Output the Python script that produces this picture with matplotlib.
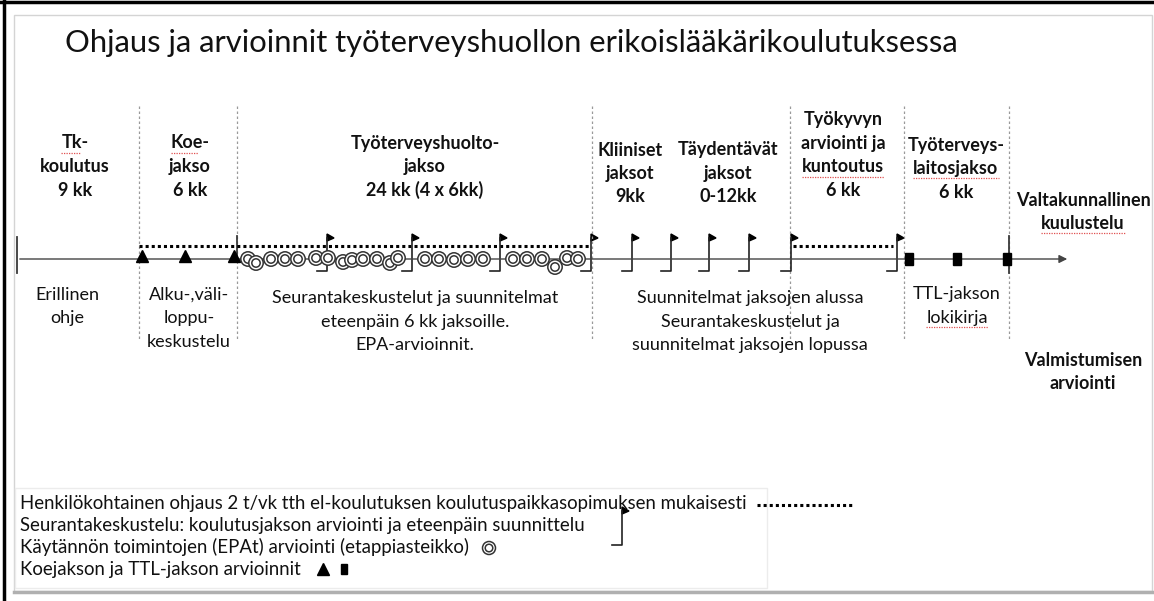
import matplotlib.pyplot as plt
from matplotlib.patches import Rectangle, Circle, Polygon

plt.rcParams["font.family"] = ["Lato", "DejaVu Sans"]

# --- content ---
title = "Ohjaus ja arvioinnit työterveyshuollon erikoislääkärikoulutuksessa"

phases = [
    "Tk-\nkoulutus\n9 kk",
    "Koe-\njakso\n6 kk",
    "Työterveyshuolto-\njakso\n24 kk (4 x 6kk)",
    "Kliiniset\njaksot\n9kk",
    "Täydentävät\njaksot\n0-12kk",
    "Työkyvyn\narviointi ja\nkuntoutus\n6 kk",
    "Työterveys-\nlaitosjakso\n6 kk",
    "Valtakunnallinen\nkuulustelu",
]

notes = [
    "Erillinen\nohje",
    "Alku-,väli-\nloppu-\nkeskustelu",
    "Seurantakeskustelut ja suunnitelmat\neteenpäin 6 kk jaksoille.\nEPA-arvioinnit.",
    "Suunnitelmat jaksojen alussa\nSeurantakeskustelut ja\nsuunnitelmat jaksojen lopussa",
    "TTL-jakson\nlokikirja",
]
final_note = "Valmistumisen\narviointi"

legend_lines = [
    "Henkilökohtainen ohjaus 2 t/vk tth el-koulutuksen koulutuspaikkasopimuksen mukaisesti",
    "Seurantakeskustelu: koulutusjakson arviointi ja eteenpäin suunnittelu",
    "Käytännön toimintojen (EPAt) arviointi (etappiasteikko)",
    "Koejakson ja TTL-jakson arvioinnit",
]

# words flagged by the spell checker (red wavy underline in the slide)
spell_marked = {"Tk-", "Koe-", "kuntoutus", "laitosjakso", "kuulustelu", "lokikirja"}

# --- layout (canvas units = pixels) ---
W, H = 1154, 601
line_y = 259
phase_x = [75, 190, 425, 630, 728, 843, 956, 1083]
phase_y = [143, 143, 143, 150, 150, 120, 145, 200]
note_x = [67, 189, 415, 750, 957]
note_y = [295, 295, 298, 298, 294]
separators = [139, 237, 592, 790, 904, 1009]
triangles = [142, 185, 234]
squares = [909, 957, 1007]
flags = [327, 412, 500, 591, 632, 671, 709, 749, 791, 897]
epa_x = [248, 256, 271, 285, 298, 316, 328, 343, 352, 363, 377, 390, 398,
         425, 439, 454, 468, 483, 513, 527, 542, 555, 567, 578]
epa_dy = [0, 4, 0, 0, 0, -1, -1, 3, 1, 0, 0, 4, -1,
          0, 0, 1, 0, 0, 0, 0, 0, 8, -1, 0]
guidance = [(139, 590), (793, 893)]
dy = 23.5
ink = "#111111"

fig = plt.figure(figsize=(W / 100, H / 100), dpi=100)
ax = fig.add_axes([0, 0, 1, 1])
ax.set_xlim(0, W)
ax.set_ylim(H, 0)
ax.axis("off")

# slide frame
ax.add_patch(Rectangle((14, 15), 1138, 576, fill=False, ec="#d4d4d4", lw=1))
ax.plot([14, 1152], [592, 592], color="#b0b0b0", lw=2.5)
ax.plot([4, 4], [0, H], color="black", lw=2.5)
ax.plot([0, W], [2, 2], color="black", lw=2.5)

ax.text(65, 43, title, fontsize=22.3, fontweight="normal", color=ink, va="center", ha="left")

marked = []


def multiline(x, y, s, bold=False, size=13):
    for i, part in enumerate(s.split("\n")):
        t = ax.text(x, y + i * dy, part, ha="center", va="center", fontsize=size,
                    fontweight="bold" if bold else "normal", color=ink)
        if part in spell_marked:
            marked.append(t)


for s, x, y in zip(phases, phase_x, phase_y):
    multiline(x, y, s, bold=True, size=13)
for s, x, y in zip(notes, note_x, note_y):
    multiline(x, y, s)
multiline(1083, 360, final_note, bold=True, size=13)

# separators
for x in separators:
    ax.plot([x, x], [106, 340], color="#9a9a9a", lw=0.9, ls=(0, (2, 2)))

# timeline
ax.annotate("", xy=(1070, line_y), xytext=(17, line_y),
            arrowprops=dict(arrowstyle="-|>", color="#444444", lw=1, mutation_scale=12))
ax.plot([17, 17], [237, 273], color="#3a3a3a", lw=1.3)
ax.plot([1009, 1009], [236, 273], color="#3a3a3a", lw=1.3)
ax.plot([237, 237], [236, 257], color="#3a3a3a", lw=1.3)

# personal guidance dotted lines
for x0, x1 in guidance:
    ax.plot([x0, x1], [246, 246], color="black", lw=2.2, ls=(0, (1, 1)))


def flag(x, ytop, ybot, foot=10):
    ax.plot([x - foot, x, x], [ybot, ybot, ytop], color="#222222", lw=1.2)
    ax.add_patch(Polygon([(x, ytop - 4), (x + 7, ytop), (x, ytop + 3)], closed=True,
                         color="black"))


def epa(x, y, r=7.2):
    ax.add_patch(Circle((x, y), r, fc="white", ec="#333333", lw=1.1, zorder=3))
    ax.add_patch(Circle((x, y), r * 0.58, fc="none", ec="#333333", lw=1.1, zorder=3))


for x, d in zip(epa_x, epa_dy):
    epa(x, line_y + d)
for x in flags:
    flag(x, 238, 271)

ax.plot(triangles, [line_y - 3] * len(triangles), ls="none", marker="^", ms=9,
        color="black", zorder=4)
for x in squares:
    ax.add_patch(Rectangle((x - 4, line_y - 6), 8, 12, color="black", zorder=4))

# legend
ax.add_patch(Rectangle((15, 488), 752, 100, fill=False, ec="#ececec", lw=1))
leg_y = [503, 525, 547, 569]
leg_texts = [ax.text(20, y, s, ha="left", va="center", fontsize=13.4, color=ink)
             for s, y in zip(legend_lines, leg_y)]

fig.canvas.draw()
inv = ax.transData.inverted()


def right_end(t):
    bb = t.get_window_extent()
    return inv.transform([[bb.x1, bb.y0]])[0][0]


e0 = right_end(leg_texts[0])
ax.plot([e0 + 10, e0 + 106], [leg_y[0] + 2, leg_y[0] + 2], color="black", lw=2.2,
        ls=(0, (1, 1)))
flag(622, 511, 545)
epa(right_end(leg_texts[2]) + 20, leg_y[2] + 1, r=6.5)
e3 = right_end(leg_texts[3])
ax.plot([e3 + 22], [leg_y[3]], ls="none", marker="^", ms=8, color="black")
ax.add_patch(Rectangle((e3 + 40, leg_y[3] - 5), 6, 10, color="black"))

# spell-check underlines
for t in marked:
    bb = t.get_window_extent()
    (x0, y0), (x1, _) = inv.transform([[bb.x0, bb.y0], [bb.x1, bb.y1]])
    if t.get_text().endswith("-"):
        x1 -= (x1 - x0) * 0.3
    ax.plot([x0, x1], [y0 + 1, y0 + 1], color="#e05050", lw=0.9, ls=(0, (1, 1)))

fig.savefig("out.png", dpi=100)
